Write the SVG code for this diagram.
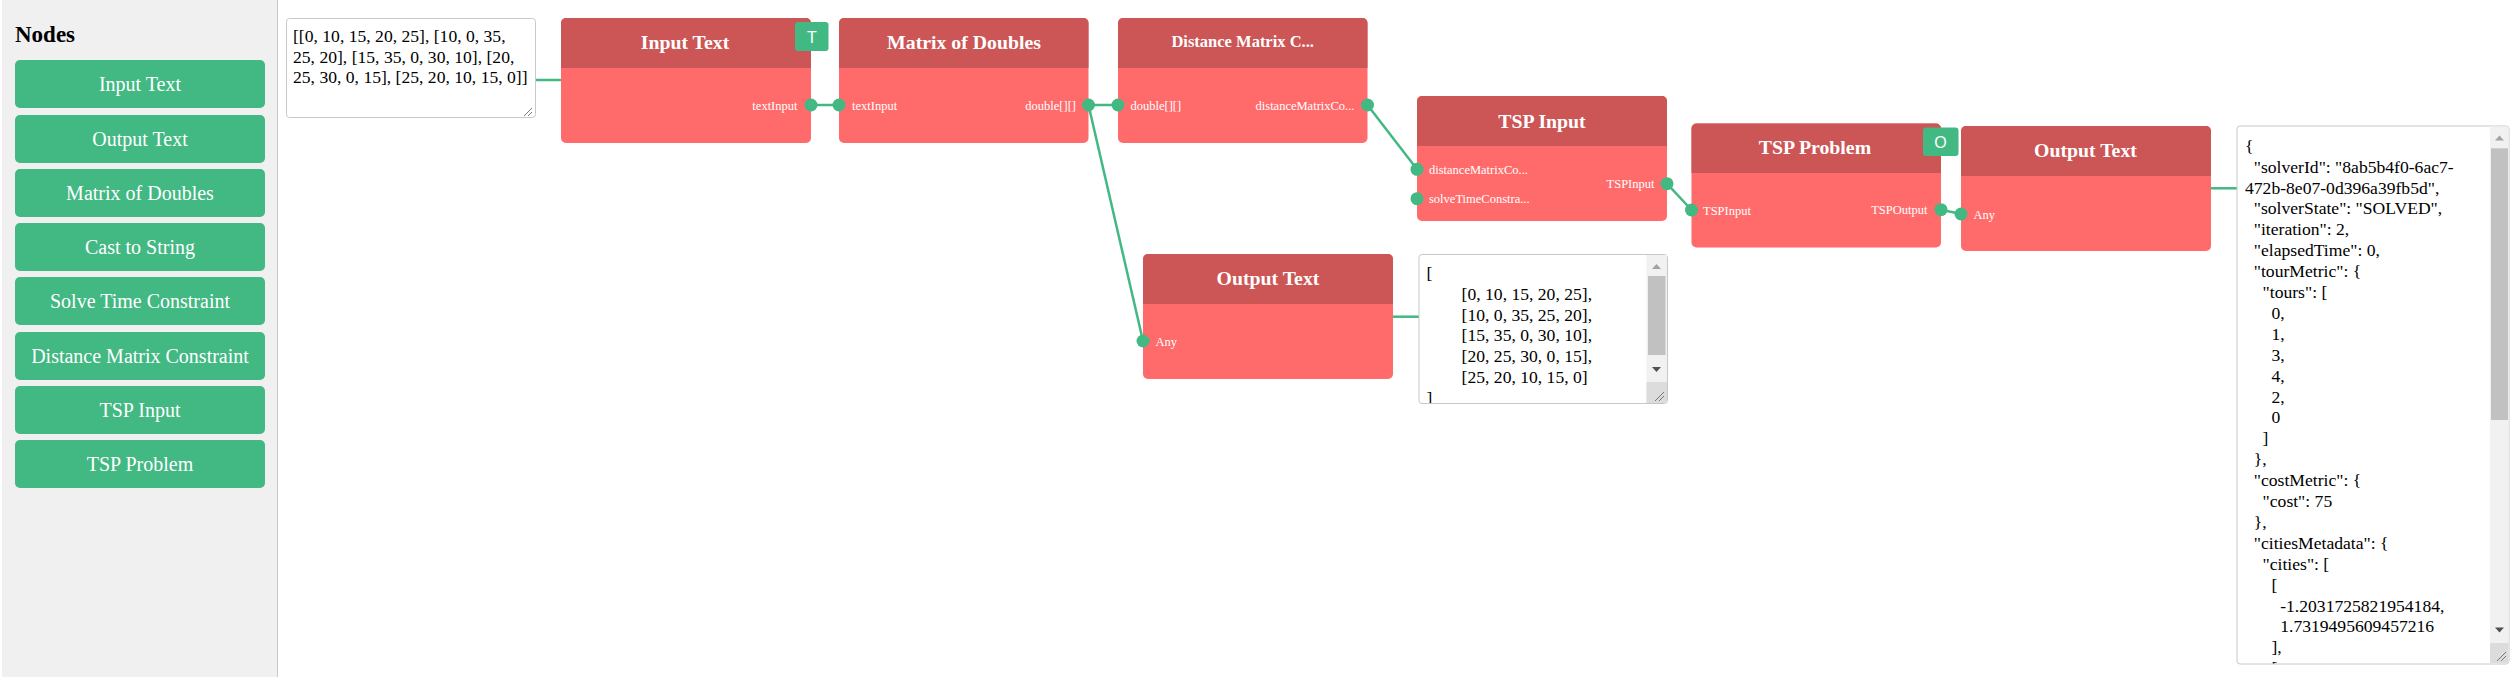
<svg xmlns="http://www.w3.org/2000/svg" width="2517" height="677" viewBox="0 0 2517 677">
<style>
.side{fill:#f0f0f0}
.btn{fill:#42b883}
.btxt{font-family:"Liberation Serif",serif;font-size:20px;fill:#fff;text-anchor:middle}
.hdr{fill:#cc5555}
.body{fill:#ff6b6b}
.title{font-family:"Liberation Serif",serif;font-size:19.8px;font-weight:bold;fill:#fff;text-anchor:middle}
.title-s{font-family:"Liberation Serif",serif;font-size:16.5px;font-weight:bold;fill:#fff;text-anchor:middle}
.plbl{font-family:"Liberation Serif",serif;font-size:12.5px;fill:#fff}
.pr{text-anchor:end}
.port{fill:#42b883}
.badge{fill:#42b883}
.btx{font-family:"Liberation Sans",sans-serif;font-size:16px;fill:#fff;text-anchor:middle}
.conn{stroke:#42b883;stroke-width:2.5;fill:none}
.ta{fill:#fff;stroke:#c8c8c8;stroke-width:1}
.tat{font-family:"Liberation Serif",serif;font-size:17.6px;fill:#000}
.track{fill:#f1f1f1}
.thumb{fill:#c1c1c1}
.arrU{fill:#a3a3a3}
.arrD{fill:#505050}
.rsz{fill:#dcdcdc}
.grip{stroke:#777;stroke-width:1;fill:none}
</style>
<defs>
<clipPath id="clip2"><rect x="1419.5" y="255" width="227" height="148"/></clipPath>
<clipPath id="clip3"><rect x="2237.5" y="126.5" width="252.5" height="537"/></clipPath>
</defs>

<!-- Sidebar -->
<g id="sidebar">
<rect class="side" x="2" y="0" width="275.5" height="677"/>
<line x1="277.5" y1="0" x2="277.5" y2="677" stroke="#c8c8c8" stroke-width="1"/>
<text x="15" y="41.7" font-family="Liberation Serif, serif" font-size="23" font-weight="bold" fill="#000">Nodes</text>
<rect class="btn" x="15" y="60" width="250" height="48" rx="5"/>
<text class="btxt" x="140" y="91">Input Text</text>
<rect class="btn" x="15" y="115" width="250" height="48" rx="5"/>
<text class="btxt" x="140" y="146">Output Text</text>
<rect class="btn" x="15" y="169" width="250" height="48" rx="5"/>
<text class="btxt" x="140" y="200">Matrix of Doubles</text>
<rect class="btn" x="15" y="223" width="250" height="48" rx="5"/>
<text class="btxt" x="140" y="254">Cast to String</text>
<rect class="btn" x="15" y="277" width="250" height="48" rx="5"/>
<text class="btxt" x="140" y="308">Solve Time Constraint</text>
<rect class="btn" x="15" y="332" width="250" height="48" rx="5"/>
<text class="btxt" x="140" y="363">Distance Matrix Constraint</text>
<rect class="btn" x="15" y="386" width="250" height="48" rx="5"/>
<text class="btxt" x="140" y="417">TSP Input</text>
<rect class="btn" x="15" y="440" width="250" height="48" rx="5"/>
<text class="btxt" x="140" y="471">TSP Problem</text>
</g>

<!-- Connectors -->
<g id="connectors">
<line class="conn" x1="536" y1="80" x2="561" y2="80"/>
<line class="conn" x1="811" y1="105" x2="839" y2="105"/>
<line class="conn" x1="1088.5" y1="105" x2="1118" y2="105"/>
<line class="conn" x1="1088.5" y1="105" x2="1143" y2="341"/>
<line class="conn" x1="1367.5" y1="105" x2="1417" y2="169.3"/>
<line class="conn" x1="1667" y1="183.7" x2="1691.5" y2="210"/>
<line class="conn" x1="1941" y1="209.7" x2="1961" y2="214"/>
<line class="conn" x1="1393" y1="316.7" x2="1419" y2="316.7"/>
<line class="conn" x1="2211" y1="188.3" x2="2237" y2="188.3"/>
</g>

<!-- Input textarea -->
<g id="textarea-input">
<rect class="ta" x="286.5" y="18.5" width="249" height="99" rx="3"/>
<text class="tat" x="293" y="41.7">[[0, 10, 15, 20, 25], [10, 0, 35,</text>
<text class="tat" x="293" y="62.5">25, 20], [15, 35, 0, 30, 10], [20,</text>
<text class="tat" x="293" y="83.3">25, 30, 0, 15], [25, 20, 10, 15, 0]]</text>
<path class="grip" d="M532 108 L524 116 M532 112 L528 116"/>
</g>

<!-- Input Text node -->
<g id="node-input-text">
<rect class="body" x="561" y="18" width="250" height="125" rx="5"/>
<path class="hdr" d="M561 68 V23 a5 5 0 0 1 5 -5 H806 a5 5 0 0 1 5 5 V68 Z"/>
<text class="title" x="685" y="49">Input Text</text>
<rect class="badge" x="795" y="22" width="33.5" height="29" rx="3"/>
<text class="btx" x="812" y="42.5">T</text>
<text class="plbl pr" x="797.5" y="109.5">textInput</text>
<circle class="port" cx="811" cy="105" r="6.5"/>
</g>

<!-- Matrix of Doubles node -->
<g id="node-matrix">
<rect class="body" x="839" y="18" width="249.5" height="125" rx="5"/>
<path class="hdr" d="M839 68 V23 a5 5 0 0 1 5 -5 H1083.5 a5 5 0 0 1 5 5 V68 Z"/>
<text class="title" x="964" y="49">Matrix of Doubles</text>
<text class="plbl" x="852" y="109.5">textInput</text>
<text class="plbl pr" x="1076" y="109.5">double[][]</text>
<circle class="port" cx="839" cy="105" r="6.5"/>
<circle class="port" cx="1088.5" cy="105" r="6.5"/>
</g>

<!-- Distance Matrix Constraint node -->
<g id="node-distance">
<rect class="body" x="1118" y="18" width="249.5" height="125" rx="5"/>
<path class="hdr" d="M1118 68 V23 a5 5 0 0 1 5 -5 H1362.5 a5 5 0 0 1 5 5 V68 Z"/>
<text class="title-s" x="1242.7" y="46.7">Distance Matrix C...</text>
<text class="plbl" x="1130.5" y="109.5">double[][]</text>
<text class="plbl pr" x="1354.5" y="109.5">distanceMatrixCo...</text>
<circle class="port" cx="1118" cy="105" r="6.5"/>
<circle class="port" cx="1367.5" cy="105" r="6.5"/>
</g>

<!-- TSP Input node -->
<g id="node-tsp-input">
<rect class="body" x="1417" y="96" width="250" height="125" rx="5"/>
<path class="hdr" d="M1417 146 V101 a5 5 0 0 1 5 -5 H1662 a5 5 0 0 1 5 5 V146 Z"/>
<text class="title" x="1542" y="127.5">TSP Input</text>
<text class="plbl" x="1429" y="173.8">distanceMatrixCo...</text>
<text class="plbl" x="1429" y="203.2">solveTimeConstra...</text>
<text class="plbl pr" x="1654.5" y="188.2">TSPInput</text>
<circle class="port" cx="1417" cy="169.3" r="6.5"/>
<circle class="port" cx="1417" cy="198.7" r="6.5"/>
<circle class="port" cx="1667" cy="183.7" r="6.5"/>
</g>

<!-- Middle Output Text node -->
<g id="node-output-text-1">
<rect class="body" x="1143" y="254" width="250" height="125" rx="5"/>
<path class="hdr" d="M1143 304 V259 a5 5 0 0 1 5 -5 H1388 a5 5 0 0 1 5 5 V304 Z"/>
<text class="title" x="1268" y="284.5">Output Text</text>
<text class="plbl" x="1155.5" y="345.5">Any</text>
<circle class="port" cx="1143" cy="341" r="6.5"/>
</g>

<!-- Middle output textarea -->
<g id="textarea-output-1">
<rect class="ta" x="1419" y="254.5" width="248.5" height="149" rx="3"/>
<g clip-path="url(#clip2)">
<text class="tat" x="1426.5" y="279.3">[</text>
<text class="tat" x="1461.6" y="300">[0, 10, 15, 20, 25],</text>
<text class="tat" x="1461.6" y="320.7">[10, 0, 35, 25, 20],</text>
<text class="tat" x="1461.6" y="341.4">[15, 35, 0, 30, 10],</text>
<text class="tat" x="1461.6" y="362.1">[20, 25, 30, 0, 15],</text>
<text class="tat" x="1461.6" y="382.8">[25, 20, 10, 15, 0]</text>
<text class="tat" x="1426.5" y="403.5">]</text>
</g>
<rect class="track" x="1646.5" y="255" width="20.5" height="148"/>
<rect class="thumb" x="1648" y="276" width="17.5" height="79"/>
<path class="arrU" d="M1652 269 L1661 269 L1656.5 264 Z"/>
<path class="arrD" d="M1652 367 L1661 367 L1656.5 372 Z"/>
<rect class="rsz" x="1646.5" y="382" width="20.5" height="21"/>
<path class="grip" d="M1664 392 L1655 401 M1664 396 L1659 401"/>
</g>

<!-- TSP Problem node -->
<g id="node-tsp-problem">
<rect class="body" x="1691.5" y="123.5" width="249.5" height="124" rx="5"/>
<path class="hdr" d="M1691.5 173 V128.5 a5 5 0 0 1 5 -5 H1936 a5 5 0 0 1 5 5 V173 Z"/>
<text class="title" x="1815" y="153.5">TSP Problem</text>
<rect class="badge" x="1923" y="127.5" width="35.5" height="28.5" rx="3"/>
<text class="btx" x="1940.5" y="147.5">O</text>
<text class="plbl" x="1703" y="214.5">TSPInput</text>
<text class="plbl pr" x="1927.5" y="214.2">TSPOutput</text>
<circle class="port" cx="1691.5" cy="210" r="6.5"/>
<circle class="port" cx="1941" cy="209.7" r="6.5"/>
</g>

<!-- Right Output Text node -->
<g id="node-output-text-2">
<rect class="body" x="1961" y="126" width="250" height="125" rx="5"/>
<path class="hdr" d="M1961 176 V131 a5 5 0 0 1 5 -5 H2206 a5 5 0 0 1 5 5 V176 Z"/>
<text class="title" x="2085.5" y="157.3">Output Text</text>
<text class="plbl" x="1973.5" y="218.5">Any</text>
<circle class="port" cx="1961" cy="214" r="6.5"/>
</g>

<!-- Right output textarea -->
<g id="textarea-output-2">
<rect class="ta" x="2237" y="126" width="272" height="538" rx="3"/>
<g clip-path="url(#clip3)">
<text class="tat" x="2245" y="151.7">{</text>
<text class="tat" x="2253.8" y="172.6">"solverId": "8ab5b4f0-6ac7-</text>
<text class="tat" x="2245" y="193.5">472b-8e07-0d396a39fb5d",</text>
<text class="tat" x="2253.8" y="214.4">"solverState": "SOLVED",</text>
<text class="tat" x="2253.8" y="235.3">"iteration": 2,</text>
<text class="tat" x="2253.8" y="256.2">"elapsedTime": 0,</text>
<text class="tat" x="2253.8" y="277.1">"tourMetric": {</text>
<text class="tat" x="2262.6" y="298">"tours": [</text>
<text class="tat" x="2271.4" y="318.9">0,</text>
<text class="tat" x="2271.4" y="339.8">1,</text>
<text class="tat" x="2271.4" y="360.7">3,</text>
<text class="tat" x="2271.4" y="381.6">4,</text>
<text class="tat" x="2271.4" y="402.5">2,</text>
<text class="tat" x="2271.4" y="423.4">0</text>
<text class="tat" x="2262.6" y="444.3">]</text>
<text class="tat" x="2253.8" y="465.2">},</text>
<text class="tat" x="2253.8" y="486.1">"costMetric": {</text>
<text class="tat" x="2262.6" y="507">"cost": 75</text>
<text class="tat" x="2253.8" y="527.9">},</text>
<text class="tat" x="2253.8" y="548.8">"citiesMetadata": {</text>
<text class="tat" x="2262.6" y="569.7">"cities": [</text>
<text class="tat" x="2271.4" y="590.6">[</text>
<text class="tat" x="2280.2" y="611.5">-1.2031725821954184,</text>
<text class="tat" x="2280.2" y="632.4">1.7319495609457216</text>
<text class="tat" x="2271.4" y="653.3">],</text>
<text class="tat" x="2271.4" y="674.2">[</text>
</g>
<rect class="track" x="2490" y="126.5" width="18.5" height="537"/>
<rect class="thumb" x="2491" y="148.3" width="17" height="271.7"/>
<path class="arrU" d="M2495 140.5 L2504 140.5 L2499.5 135.5 Z"/>
<path class="arrD" d="M2495 627.5 L2504 627.5 L2499.5 632.5 Z"/>
<rect class="rsz" x="2490" y="643" width="18.5" height="20.5"/>
<path class="grip" d="M2506 652 L2497 661 M2506 656 L2501 661"/>
</g>
</svg>
